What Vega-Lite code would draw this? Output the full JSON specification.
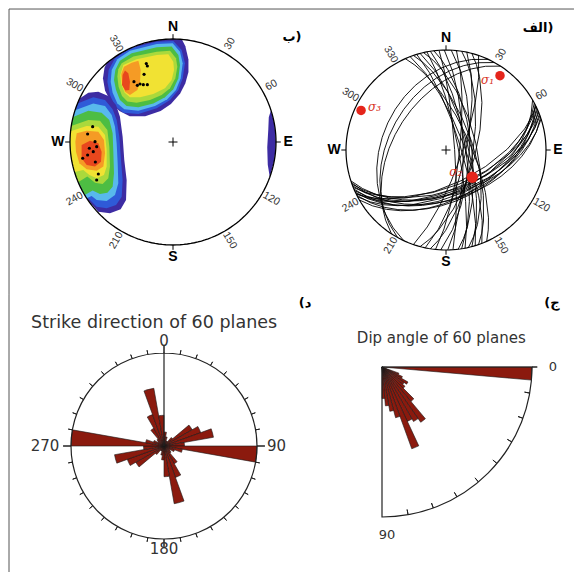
{
"$schema": "https://vega.github.io/schema/vega-lite/v6.json",
"padding": 0,
"background": "white",
"config": {"view": {"stroke": null}},
"spacing": 0,
"bounds": "flush",
"vconcat": [
{
"width": 574, "height": 295,
"layer": [
{"data": {"values": [
{"c":"NW","lv":1,"g":{"type":"Polygon","coordinates":[[[-64.3,76.6],[-57.4,81.9],[-50,86.6],[-34.2,94],[-17.4,98.5],[0,100],[8.7,99.6],[12,93],[15,80],[15,68],[12,57],[7,47],[-2,37],[-12,30],[-27,25],[-42,25],[-52,30],[-60,38],[-66,50],[-68,62],[-66.5,72],[-64.3,76.6]]]}},
{"c":"NW","lv":2,"g":{"type":"Polygon","coordinates":[[[-56.3,81.2],[-41.8,90.9],[-15.8,97.4],[0.3,98.1],[8.4,89.3],[11.6,76.4],[9.4,61.8],[5.2,50.5],[-2.9,40.8],[-15.8,32.7],[-33.6,27.2],[-48.2,28.5],[-56.3,35.0],[-61.2,45.6],[-63.7,58.6],[-62.5,69.9],[-56.3,81.2]]]}},
{"c":"NW","lv":3,"g":{"type":"Polygon","coordinates":[[[-54.0,80.3],[-41.8,88.7],[-15.8,95.2],[-0.3,95.8],[6.8,87.7],[9.4,76.4],[7.5,61.8],[2.9,50.5],[-5.5,41.4],[-17.5,35.0],[-33.6,30.4],[-47.3,31.7],[-54.0,37.5],[-58.6,47.9],[-60.5,58.6],[-59.5,69.9],[-54.0,80.3]]]}},
{"c":"NW","lv":4,"g":{"type":"Polygon","coordinates":[[[-51.5,79.0],[-40.1,86.1],[-15.8,91.9],[-1.3,92.6],[5.2,84.5],[6.8,74.8],[5.2,61.8],[0.3,51.1],[-7.8,43.4],[-19.1,37.5],[-33.6,33.7],[-45.0,35.0],[-51.5,40.8],[-55.3,50.5],[-57.3,60.2],[-56.0,69.9],[-51.5,79.0]]]}},
{"c":"NW","lv":5,"g":{"type":"Polygon","coordinates":[[[-49.8,76.4],[-38.5,82.9],[-15.8,87.7],[-2.9,88.7],[2.9,81.2],[4.2,73.1],[2.3,61.8],[-2.9,52.1],[-11.0,45.6],[-22.3,40.8],[-35.3,38.2],[-44.3,39.2],[-49.5,44.7],[-52.8,53.7],[-54.0,63.4],[-53.1,70.6],[-49.8,76.4]]]}},
{"c":"NW","lv":6,"g":{"type":"Polygon","coordinates":[[[-48.2,74.8],[-35.3,80.3],[-15.8,84.5],[-4.5,85.1],[0.3,78.0],[1.0,69.9],[-1.3,60.2],[-7.8,52.1],[-19.1,46.6],[-32.0,43.4],[-41.8,43.4],[-46.9,47.9],[-50.2,56.3],[-51.1,65.1],[-48.2,74.8]]]}},
{"c":"NW","lv":7,"g":{"type":"Polygon","coordinates":[[[-47.6,73.1],[-40.1,77.0],[-33.6,79.0],[-31.4,69.9],[-32.0,58.6],[-34.6,50.5],[-41.8,45.6],[-46.6,48.9],[-49.5,57.0],[-50.2,66.0],[-47.6,73.1]]]}},
{"c":"NW","lv":8,"g":{"type":"Polygon","coordinates":[[[-48.9,65.1],[-46.6,69.3],[-43.4,66.7],[-41.8,58.6],[-42.4,50.5],[-46.3,49.9],[-49.5,55.4],[-48.9,65.1]]]}},
{"c":"W","lv":1,"g":{"type":"Polygon","coordinates":[[[-90.6,42.3],[-82.2,47.9],[-72.5,48.9],[-62.8,44.7],[-55.3,35.9],[-51.5,24.6],[-48.9,5.2],[-47.3,-17.5],[-45.0,-36.9],[-45.6,-56.3],[-50.8,-65.4],[-61.2,-69.2],[-72.5,-67.6],[-81.2,-57.9],[-86.6,-50],[-94,-34.2],[-98.5,-17.4],[-100,0],[-98.5,17.4],[-94,34.2],[-90.6,42.3]]]}},
{"c":"W","lv":2,"g":{"type":"Polygon","coordinates":[[[-92.7,37.5],[-77.4,43.4],[-66.0,40.8],[-58.6,31.7],[-54.7,21.4],[-52.1,5.2],[-50.5,-17.5],[-48.9,-36.9],[-49.8,-53.1],[-55.3,-61.2],[-64.4,-64.4],[-74.1,-62.8],[-80.6,-56.3],[-84.8,-53.0],[-94,-34.2],[-98.5,-17.4],[-100,0],[-98.5,17.4],[-94,34.2],[-92.7,37.5]]]}},
{"c":"W","lv":3,"g":{"type":"Polygon","coordinates":[[[-95.1,30.9],[-77.4,37.5],[-66.0,35.0],[-59.5,26.2],[-56.3,14.9],[-54.7,-1.3],[-53.7,-20.7],[-53.1,-40.1],[-56.3,-51.5],[-64.4,-57.3],[-74.1,-56.3],[-79.0,-52.4],[-83.9,-54.5],[-94,-34.2],[-98.5,-17.4],[-100,0],[-98.5,17.4],[-95.1,30.9]]]}},
{"c":"W","lv":4,"g":{"type":"Polygon","coordinates":[[[-97.0,24.2],[-82.2,30.4],[-69.3,28.5],[-61.8,21.4],[-58.6,8.4],[-57.9,-11.0],[-57.3,-30.4],[-58.6,-43.4],[-63.7,-49.2],[-70.9,-50.5],[-78.0,-47.2],[-85.7,-51.5],[-94,-34.2],[-98.5,-17.4],[-100,0],[-99.2,12.4],[-97.0,24.2]]]}},
{"c":"W","lv":5,"g":{"type":"Polygon","coordinates":[[[-98.8,15.6],[-82.2,21.4],[-70.9,20.7],[-63.7,11.7],[-61.8,-4.5],[-61.2,-23.9],[-62.8,-35.3],[-68.3,-40.8],[-75.7,-39.5],[-83.2,-33.6],[-92.1,-39.1],[-98.5,-17.4],[-100,0],[-98.8,15.6]]]}},
{"c":"W","lv":6,"g":{"type":"Polygon","coordinates":[[[-99.5,10.5],[-83.8,15.6],[-72.5,14.9],[-66.0,6.8],[-64.4,-7.8],[-64.4,-23.9],[-67.0,-32.0],[-74.1,-35.3],[-81.2,-32.0],[-87.1,-27.2],[-95.6,-29.2],[-98.5,-17.4],[-100,0],[-99.5,10.5]]]}},
{"c":"W","lv":7,"g":{"type":"Polygon","coordinates":[[[-93.5,8.4],[-83.8,11.0],[-72.5,10.0],[-67.0,2.0],[-66.0,-11.0],[-67.6,-23.9],[-74.1,-27.8],[-83.8,-26.5],[-90.9,-20.7],[-94.2,-9.4],[-94.8,0.3],[-93.5,8.4]]]}},
{"c":"W","lv":8,"g":{"type":"Polygon","coordinates":[[[-88.7,-2.9],[-80.6,1.3],[-72.5,-1.3],[-69.3,-9.4],[-69.9,-19.1],[-75.7,-23.9],[-83.8,-22.3],[-88.7,-15.8],[-88.7,-2.9]]]}},
{"c":"E","lv":1,"g":{"type":"Polygon","coordinates":[[[95.1,30.9],[98.5,17.4],[100,0],[98.5,-17.4],[94,-34.2],[92,-22],[91.5,-5],[92.5,12],[93,24],[95.1,30.9]]]}}
]},
"mark": {"type": "geoshape", "stroke": null, "strokeWidth": 0},
"projection": {"type": "identity", "reflectY": true, "scale": 1.03, "translate": [173, 142]},
"encoding": {
"shape": {"field": "g", "type": "geojson"},
"fill": {"field": "lv", "type": "ordinal", "legend": null,
"scale": {"domain": [1,2,3,4,5,6,7,8], "range": ["#3d2ca3","#2f5ad8","#58b9ec","#4dbd43","#aad93c","#f1e233","#f59b25","#e8471d"]}}
}},
{"data": {"values": [
{"u":-25.9,"v":76.1},{"u":-24.9,"v":73.8},{"u":-28.1,"v":65.7},{"u":-37.9,"v":58.6},{"u":-34.6,"v":55.0},{"u":-32.0,"v":56.3},{"u":-28.8,"v":55.7},{"u":-24.9,"v":55.7},
{"u":-78.0,"v":14.9},{"u":-82.9,"v":7.8},{"u":-75.7,"v":0.3},{"u":-74.1,"v":-4.5},{"u":-81.2,"v":-6.1},{"u":-77.4,"v":-9.4},{"u":-82.9,"v":-12.6},{"u":-87.7,"v":-15.8},{"u":-75.4,"v":-19.4},{"u":-72.5,"v":-31.1},{"u":-74.1,"v":-36.9}
]},
"mark": {"type": "circle", "size": 10, "color": "black", "opacity": 1},
"projection": {"type": "identity", "reflectY": true, "scale": 1.03, "translate": [173, 142]},
"encoding": {"longitude": {"field": "u", "type": "quantitative"}, "latitude": {"field": "v", "type": "quantitative"}}},
{"data": {"values": [{"u":-159.2,"v":-148.5,"u2":-159.2,"v2":129.1},{"u":-159.2,"v":129.1,"u2":389.3,"v2":129.1}]},
"mark": {"type": "rule", "stroke": "#555", "strokeWidth": 1},
"projection": {"type": "identity", "reflectY": true, "scale": 1.03, "translate": [173, 142]},
"encoding": {"longitude": {"field": "u", "type": "quantitative"}, "latitude": {"field": "v", "type": "quantitative"}, "longitude2": {"field": "u2"}, "latitude2": {"field": "v2"}}},
{"data": {"sphere": true},
"mark": {"type": "geoshape", "filled": false, "fill": null, "stroke": "black", "strokeWidth": 1.3},
"projection": {"type": "azimuthalEqualArea", "rotate": [0, 90, 0], "clipAngle": 90, "scale": 72.83, "translate": [173, 142]}},
{"data": {"values": [{"lon":0,"lat":0,"lat2":5.5},{"lon":90,"lat":0,"lat2":5.5},{"lon":180,"lat":0,"lat2":5.5},{"lon":270,"lat":0,"lat2":5.5}]},
"mark": {"type": "rule", "stroke": "black", "strokeWidth": 1},
"projection": {"type": "azimuthalEqualArea", "rotate": [0, 90, 0], "clipAngle": 90, "scale": 72.83, "translate": [173, 142]},
"encoding": {"longitude": {"field": "lon", "type": "quantitative"}, "latitude": {"field": "lat", "type": "quantitative"}, "longitude2": {"field": "lon"}, "latitude2": {"field": "lat2"}}},
{"data": {"values": [{"t":"N","lon":0,"lat":14.5},{"t":"E","lon":90,"lat":14.5},{"t":"S","lon":180,"lat":14.5},{"t":"W","lon":270,"lat":14.5}]},
"mark": {"type": "text", "font": "Liberation Sans", "fontWeight": "bold", "fontSize": 14, "align": "center", "baseline": "middle", "fill": "black"},
"projection": {"type": "azimuthalEqualArea", "rotate": [0, 90, 0], "clipAngle": 90, "scale": 72.83, "translate": [173, 142]},
"encoding": {"longitude": {"field": "lon", "type": "quantitative"}, "latitude": {"field": "lat", "type": "quantitative"}, "text": {"field": "t"}}},
{"data": {"values": [{"t":"30","lon":30,"lat":12.5,"rot":-60},{"t":"60","lon":60,"lat":12.5,"rot":-30},{"t":"120","lon":120,"lat":12.5,"rot":30},{"t":"150","lon":150,"lat":12.5,"rot":60},{"t":"210","lon":210,"lat":12.5,"rot":-60},{"t":"240","lon":240,"lat":12.5,"rot":-30},{"t":"300","lon":300,"lat":12.5,"rot":30},{"t":"330","lon":330,"lat":12.5,"rot":60}]},
"mark": {"type": "text", "font": "Liberation Sans", "fontSize": 10.5, "align": "center", "baseline": "middle", "fill": "#333"},
"projection": {"type": "azimuthalEqualArea", "rotate": [0, 90, 0], "clipAngle": 90, "scale": 72.83, "translate": [173, 142]},
"encoding": {"longitude": {"field": "lon", "type": "quantitative"}, "latitude": {"field": "lat", "type": "quantitative"}, "text": {"field": "t"}, "angle": {"field": "rot", "type": "quantitative", "scale": null}}},
{"data": {"values": [{"lon":0,"lat":-90}]},
"mark": {"type": "point", "shape": "M-1,0L1,0M0,-1L0,1", "size": 81, "filled": false, "stroke": "black", "strokeWidth": 1, "opacity": 1},
"projection": {"type": "azimuthalEqualArea", "rotate": [0, 90, 0], "clipAngle": 90, "scale": 72.83, "translate": [173, 142]},
"encoding": {"longitude": {"field": "lon", "type": "quantitative"}, "latitude": {"field": "lat", "type": "quantitative"}}},
{"data": {"values": [{"t":"ب)","u":115.5,"v":101.9},{"t":"الف)","u":354.4,"v":110.7}]},
"mark": {"type": "text", "font": "DejaVu Sans", "fontWeight": "bold", "fontSize": 13, "align": "center", "baseline": "middle", "fill": "black"},
"projection": {"type": "identity", "reflectY": true, "scale": 1.03, "translate": [173, 142]},
"encoding": {"longitude": {"field": "u", "type": "quantitative"}, "latitude": {"field": "v", "type": "quantitative"}, "text": {"field": "t"}}},
{"data": {"sphere": true},
"mark": {"type": "geoshape", "filled": false, "fill": null, "stroke": "black", "strokeWidth": 1.2},
"projection": {"type": "azimuthalEqualArea", "rotate": [0, 90, 0], "clipAngle": 90, "scale": 70.71, "translate": [446, 150]}},
{"data": {"values": [
{"s":60,"d":50,"g":{"type":"LineString","coordinates":[[60,0],[150,-50],[240,0]]}},
{"s":62,"d":55,"g":{"type":"LineString","coordinates":[[62,0],[152,-55],[242,0]]}},
{"s":63,"d":48,"g":{"type":"LineString","coordinates":[[63,0],[153,-48],[243,0]]}},
{"s":64,"d":58,"g":{"type":"LineString","coordinates":[[64,0],[154,-58],[244,0]]}},
{"s":65,"d":52,"g":{"type":"LineString","coordinates":[[65,0],[155,-52],[245,0]]}},
{"s":66,"d":56,"g":{"type":"LineString","coordinates":[[66,0],[156,-56],[246,0]]}},
{"s":67,"d":50,"g":{"type":"LineString","coordinates":[[67,0],[157,-50],[247,0]]}},
{"s":68,"d":60,"g":{"type":"LineString","coordinates":[[68,0],[158,-60],[248,0]]}},
{"s":69,"d":54,"g":{"type":"LineString","coordinates":[[69,0],[159,-54],[249,0]]}},
{"s":70,"d":57,"g":{"type":"LineString","coordinates":[[70,0],[160,-57],[250,0]]}},
{"s":71,"d":49,"g":{"type":"LineString","coordinates":[[71,0],[161,-49],[251,0]]}},
{"s":72,"d":53,"g":{"type":"LineString","coordinates":[[72,0],[162,-53],[252,0]]}},
{"s":64,"d":62,"g":{"type":"LineString","coordinates":[[64,0],[154,-62],[244,0]]}},
{"s":336,"d":70,"g":{"type":"LineString","coordinates":[[336,0],[66,-70],[156,0]]}},
{"s":339,"d":75,"g":{"type":"LineString","coordinates":[[339,0],[69,-75],[159,0]]}},
{"s":341,"d":68,"g":{"type":"LineString","coordinates":[[341,0],[71,-68],[161,0]]}},
{"s":343,"d":78,"g":{"type":"LineString","coordinates":[[343,0],[73,-78],[163,0]]}},
{"s":345,"d":72,"g":{"type":"LineString","coordinates":[[345,0],[75,-72],[165,0]]}},
{"s":347,"d":65,"g":{"type":"LineString","coordinates":[[347,0],[77,-65],[167,0]]}},
{"s":349,"d":80,"g":{"type":"LineString","coordinates":[[349,0],[79,-80],[169,0]]}},
{"s":351,"d":74,"g":{"type":"LineString","coordinates":[[351,0],[81,-74],[171,0]]}},
{"s":353,"d":69,"g":{"type":"LineString","coordinates":[[353,0],[83,-69],[173,0]]}},
{"s":356,"d":83,"g":{"type":"LineString","coordinates":[[356,0],[86,-83],[176,0]]}},
{"s":359,"d":76,"g":{"type":"LineString","coordinates":[[359,0],[89,-76],[179,0]]}},
{"s":3,"d":71,"g":{"type":"LineString","coordinates":[[3,0],[93,-71],[183,0]]}},
{"s":6,"d":79,"g":{"type":"LineString","coordinates":[[6,0],[96,-79],[186,0]]}},
{"s":9,"d":68,"g":{"type":"LineString","coordinates":[[9,0],[99,-68],[189,0]]}},
{"s":12,"d":74,"g":{"type":"LineString","coordinates":[[12,0],[102,-74],[192,0]]}},
{"s":15,"d":66,"g":{"type":"LineString","coordinates":[[15,0],[105,-66],[195,0]]}},
{"s":19,"d":77,"g":{"type":"LineString","coordinates":[[19,0],[109,-77],[199,0]]}},
{"s":205,"d":36,"g":{"type":"LineString","coordinates":[[205,0],[295,-36],[25,0]]}},
{"s":209,"d":42,"g":{"type":"LineString","coordinates":[[209,0],[299,-42],[29,0]]}},
{"s":213,"d":47,"g":{"type":"LineString","coordinates":[[213,0],[303,-47],[33,0]]}}
]},
"mark": {"type": "geoshape", "filled": false, "fill": null, "stroke": "black", "strokeWidth": 0.9},
"projection": {"type": "azimuthalEqualArea", "rotate": [0, 90, 0], "clipAngle": 90, "scale": 70.71, "translate": [446, 150]},
"encoding": {"shape": {"field": "g", "type": "geojson"}}},
{"data": {"values": [{"lon":0,"lat":0,"lat2":5.5},{"lon":90,"lat":0,"lat2":5.5},{"lon":180,"lat":0,"lat2":5.5},{"lon":270,"lat":0,"lat2":5.5}]},
"mark": {"type": "rule", "stroke": "black", "strokeWidth": 1},
"projection": {"type": "azimuthalEqualArea", "rotate": [0, 90, 0], "clipAngle": 90, "scale": 70.71, "translate": [446, 150]},
"encoding": {"longitude": {"field": "lon", "type": "quantitative"}, "latitude": {"field": "lat", "type": "quantitative"}, "longitude2": {"field": "lon"}, "latitude2": {"field": "lat2"}}},
{"data": {"values": [{"t":"N","lon":0,"lat":14.5},{"t":"E","lon":90,"lat":14.5},{"t":"S","lon":180,"lat":14.5},{"t":"W","lon":270,"lat":14.5}]},
"mark": {"type": "text", "font": "Liberation Sans", "fontWeight": "bold", "fontSize": 14, "align": "center", "baseline": "middle", "fill": "black"},
"projection": {"type": "azimuthalEqualArea", "rotate": [0, 90, 0], "clipAngle": 90, "scale": 70.71, "translate": [446, 150]},
"encoding": {"longitude": {"field": "lon", "type": "quantitative"}, "latitude": {"field": "lat", "type": "quantitative"}, "text": {"field": "t"}}},
{"data": {"values": [{"t":"30","lon":30,"lat":12.5,"rot":-60},{"t":"60","lon":60,"lat":12.5,"rot":-30},{"t":"120","lon":120,"lat":12.5,"rot":30},{"t":"150","lon":150,"lat":12.5,"rot":60},{"t":"210","lon":210,"lat":12.5,"rot":-60},{"t":"240","lon":240,"lat":12.5,"rot":-30},{"t":"300","lon":300,"lat":12.5,"rot":30},{"t":"330","lon":330,"lat":12.5,"rot":60}]},
"mark": {"type": "text", "font": "Liberation Sans", "fontSize": 10.5, "align": "center", "baseline": "middle", "fill": "#333"},
"projection": {"type": "azimuthalEqualArea", "rotate": [0, 90, 0], "clipAngle": 90, "scale": 70.71, "translate": [446, 150]},
"encoding": {"longitude": {"field": "lon", "type": "quantitative"}, "latitude": {"field": "lat", "type": "quantitative"}, "text": {"field": "t"}, "angle": {"field": "rot", "type": "quantitative", "scale": null}}},
{"data": {"values": [{"lon":0,"lat":-90}]},
"mark": {"type": "point", "shape": "M-1,0L1,0M0,-1L0,1", "size": 81, "filled": false, "stroke": "black", "strokeWidth": 1, "opacity": 1},
"projection": {"type": "azimuthalEqualArea", "rotate": [0, 90, 0], "clipAngle": 90, "scale": 70.71, "translate": [446, 150]},
"encoding": {"longitude": {"field": "lon", "type": "quantitative"}, "latitude": {"field": "lat", "type": "quantitative"}}},
{"data": {"values": [{"k":"σ1","az":36,"pl":-9,"sz":90},{"k":"σ2","az":136,"pl":-59,"sz":130},{"k":"σ3","az":295,"pl":-7,"sz":90}]},
"mark": {"type": "circle", "color": "#e5251b", "opacity": 1},
"projection": {"type": "azimuthalEqualArea", "rotate": [0, 90, 0], "clipAngle": 90, "scale": 70.71, "translate": [446, 150]},
"encoding": {"longitude": {"field": "az", "type": "quantitative"}, "latitude": {"field": "pl", "type": "quantitative"}, "size": {"field": "sz", "type": "quantitative", "scale": null}}},
{"data": {"values": [{"t":"σ₁","az":36,"pl":-9}]},
"mark": {"type": "text", "font": "DejaVu Serif", "fontStyle": "italic", "fontSize": 12, "align": "right", "baseline": "middle", "dx": -6, "dy": 4, "fill": "#d8321e"},
"projection": {"type": "azimuthalEqualArea", "rotate": [0, 90, 0], "clipAngle": 90, "scale": 70.71, "translate": [446, 150]},
"encoding": {"longitude": {"field": "az", "type": "quantitative"}, "latitude": {"field": "pl", "type": "quantitative"}, "text": {"field": "t"}}},
{"data": {"values": [{"t":"σ₂","az":136,"pl":-59}]},
"mark": {"type": "text", "font": "DejaVu Serif", "fontStyle": "italic", "fontSize": 12, "align": "right", "baseline": "middle", "dx": -10, "dy": -5, "fill": "#d8321e"},
"projection": {"type": "azimuthalEqualArea", "rotate": [0, 90, 0], "clipAngle": 90, "scale": 70.71, "translate": [446, 150]},
"encoding": {"longitude": {"field": "az", "type": "quantitative"}, "latitude": {"field": "pl", "type": "quantitative"}, "text": {"field": "t"}}},
{"data": {"values": [{"t":"σ₃","az":295,"pl":-7}]},
"mark": {"type": "text", "font": "DejaVu Serif", "fontStyle": "italic", "fontSize": 12, "align": "left", "baseline": "middle", "dx": 7, "dy": -3, "fill": "#d8321e"},
"projection": {"type": "azimuthalEqualArea", "rotate": [0, 90, 0], "clipAngle": 90, "scale": 70.71, "translate": [446, 150]},
"encoding": {"longitude": {"field": "az", "type": "quantitative"}, "latitude": {"field": "pl", "type": "quantitative"}, "text": {"field": "t"}}}
]
},
{"hconcat": [
{
"width": 328, "height": 302,
"layer": [
{"data": {"values": [{"u":-155,"v":151,"u2":-155,"v2":-130}]},
"mark": {"type": "rule", "stroke": "#555", "strokeWidth": 1},
"projection": {"type": "identity", "reflectY": true, "scale": 1, "translate": [164, 151]},
"encoding": {"longitude": {"field": "u", "type": "quantitative"}, "latitude": {"field": "v", "type": "quantitative"}, "longitude2": {"field": "u2"}, "latitude2": {"field": "v2"}}},
{"data": {"values": [
{"a0":0,"a1":10,"len":0.15},{"a0":10,"a1":20,"len":0.1},{"a0":20,"a1":30,"len":0.06},{"a0":30,"a1":40,"len":0.06},{"a0":40,"a1":50,"len":0.12},{"a0":50,"a1":60,"len":0.35},{"a0":60,"a1":70,"len":0.42},{"a0":70,"a1":80,"len":0.54},{"a0":80,"a1":90,"len":0.22},
{"a0":90,"a1":100,"len":1.0},{"a0":100,"a1":110,"len":0.2},{"a0":110,"a1":120,"len":0.12},{"a0":120,"a1":130,"len":0.08},{"a0":130,"a1":140,"len":0.1},{"a0":140,"a1":150,"len":0.22},{"a0":150,"a1":160,"len":0.36},{"a0":160,"a1":170,"len":0.63},{"a0":170,"a1":180,"len":0.33},
{"a0":180,"a1":190,"len":0.15},{"a0":190,"a1":200,"len":0.1},{"a0":200,"a1":210,"len":0.06},{"a0":210,"a1":220,"len":0.06},{"a0":220,"a1":230,"len":0.12},{"a0":230,"a1":240,"len":0.35},{"a0":240,"a1":250,"len":0.42},{"a0":250,"a1":260,"len":0.54},{"a0":260,"a1":270,"len":0.22},
{"a0":270,"a1":280,"len":1.0},{"a0":280,"a1":290,"len":0.2},{"a0":290,"a1":300,"len":0.12},{"a0":300,"a1":310,"len":0.08},{"a0":310,"a1":320,"len":0.1},{"a0":320,"a1":330,"len":0.22},{"a0":330,"a1":340,"len":0.36},{"a0":340,"a1":350,"len":0.63},{"a0":350,"a1":360,"len":0.33}
]},
"mark": {"type": "arc", "fill": "#8b1a0e", "stroke": "#1a1a1a", "strokeWidth": 0.6},
"encoding": {
"theta": {"field": "a0", "type": "quantitative", "stack": null, "scale": {"type": "linear", "domain": [0, 360], "range": [0, 6.283185307]}},
"theta2": {"field": "a1"},
"radius": {"field": "len", "type": "quantitative", "stack": null, "scale": {"type": "linear", "domain": [0, 1], "range": [0, 93], "zero": true}}
}},
{"data": {"values": [{"a0":0,"a1":360,"r":1}]},
"mark": {"type": "arc", "filled": false, "fill": null, "stroke": "#222", "strokeWidth": 1.2},
"encoding": {
"theta": {"field": "a0", "type": "quantitative", "stack": null, "scale": {"type": "linear", "domain": [0, 360], "range": [0, 6.283185307]}},
"theta2": {"field": "a1"},
"radius": {"field": "r", "type": "quantitative", "stack": null, "scale": {"type": "linear", "domain": [0, 1], "range": [0, 93], "zero": true}}
}},
{"data": {"values": [
{"a":0,"r1":1,"r2":1.085},{"a":10,"r1":1,"r2":1.045},{"a":20,"r1":1,"r2":1.045},{"a":30,"r1":1,"r2":1.045},{"a":40,"r1":1,"r2":1.045},{"a":50,"r1":1,"r2":1.045},{"a":60,"r1":1,"r2":1.045},{"a":70,"r1":1,"r2":1.045},{"a":80,"r1":1,"r2":1.045},
{"a":90,"r1":1,"r2":1.085},{"a":100,"r1":1,"r2":1.045},{"a":110,"r1":1,"r2":1.045},{"a":120,"r1":1,"r2":1.045},{"a":130,"r1":1,"r2":1.045},{"a":140,"r1":1,"r2":1.045},{"a":150,"r1":1,"r2":1.045},{"a":160,"r1":1,"r2":1.045},{"a":170,"r1":1,"r2":1.045},
{"a":180,"r1":1,"r2":1.085},{"a":190,"r1":1,"r2":1.045},{"a":200,"r1":1,"r2":1.045},{"a":210,"r1":1,"r2":1.045},{"a":220,"r1":1,"r2":1.045},{"a":230,"r1":1,"r2":1.045},{"a":240,"r1":1,"r2":1.045},{"a":250,"r1":1,"r2":1.045},{"a":260,"r1":1,"r2":1.045},
{"a":270,"r1":1,"r2":1.085},{"a":280,"r1":1,"r2":1.045},{"a":290,"r1":1,"r2":1.045},{"a":300,"r1":1,"r2":1.045},{"a":310,"r1":1,"r2":1.045},{"a":320,"r1":1,"r2":1.045},{"a":330,"r1":1,"r2":1.045},{"a":340,"r1":1,"r2":1.045},{"a":350,"r1":1,"r2":1.045}
]},
"mark": {"type": "arc", "filled": false, "fill": null, "stroke": "#222", "strokeWidth": 1},
"encoding": {
"theta": {"field": "a", "type": "quantitative", "stack": null, "scale": {"type": "linear", "domain": [0, 360], "range": [0, 6.283185307]}},
"theta2": {"field": "a"},
"radius": {"field": "r2", "type": "quantitative", "stack": null, "scale": {"type": "linear", "domain": [0, 1], "range": [0, 93], "zero": true}},
"radius2": {"field": "r1"}
}},
{"data": {"values": [{"t":"0","a":0,"r":1.125},{"t":"90","a":90,"r":1.21},{"t":"180","a":180,"r":1.11},{"t":"270","a":270,"r":1.28}]},
"mark": {"type": "text", "font": "DejaVu Sans", "fontSize": 15, "align": "center", "baseline": "middle", "fill": "#333"},
"encoding": {
"theta": {"field": "a", "type": "quantitative", "stack": null, "scale": {"type": "linear", "domain": [0, 360], "range": [0, 6.283185307]}},
"radius": {"field": "r", "type": "quantitative", "stack": null, "scale": {"type": "linear", "domain": [0, 1], "range": [0, 93], "zero": true}},
"text": {"field": "t"}
}},
{"data": {"values": [{"t":"Strike direction of 60 planes","a":355.4,"r":1.327}]},
"mark": {"type": "text", "font": "DejaVu Sans", "fontSize": 17.5, "align": "center", "baseline": "middle", "fill": "#333"},
"encoding": {
"theta": {"field": "a", "type": "quantitative", "stack": null, "scale": {"type": "linear", "domain": [0, 360], "range": [0, 6.283185307]}},
"radius": {"field": "r", "type": "quantitative", "stack": null, "scale": {"type": "linear", "domain": [0, 1], "range": [0, 93], "zero": true}},
"text": {"field": "t"}
}},
{"data": {"values": [{"t":"(د","a":44.6,"r":2.16}]},
"mark": {"type": "text", "font": "DejaVu Sans", "fontWeight": "bold", "fontSize": 13, "align": "center", "baseline": "middle", "fill": "black"},
"encoding": {
"theta": {"field": "a", "type": "quantitative", "stack": null, "scale": {"type": "linear", "domain": [0, 360], "range": [0, 6.283185307]}},
"radius": {"field": "r", "type": "quantitative", "stack": null, "scale": {"type": "linear", "domain": [0, 1], "range": [0, 93], "zero": true}},
"text": {"field": "t"}
}}
]
},
{
"width": 108, "height": 144,
"layer": [
{"data": {"values": [
{"a0":0,"a1":5,"len":1.0},{"a0":20,"a1":25,"len":0.12},{"a0":25,"a1":30,"len":0.15},{"a0":30,"a1":35,"len":0.2},{"a0":35,"a1":40,"len":0.18},{"a0":40,"a1":45,"len":0.2},{"a0":45,"a1":50,"len":0.3},{"a0":50,"a1":55,"len":0.45},{"a0":55,"a1":60,"len":0.42},{"a0":60,"a1":65,"len":0.4},{"a0":65,"a1":70,"len":0.58},{"a0":70,"a1":75,"len":0.35},{"a0":75,"a1":80,"len":0.3},{"a0":80,"a1":85,"len":0.26},{"a0":85,"a1":90,"len":0.21}
]},
"mark": {"type": "arc", "fill": "#8b1a0e", "stroke": "#1a1a1a", "strokeWidth": 0.6},
"encoding": {
"theta": {"field": "a0", "type": "quantitative", "stack": null, "scale": {"type": "linear", "domain": [-90, 270], "range": [0, 6.283185307]}},
"theta2": {"field": "a1"},
"radius": {"field": "len", "type": "quantitative", "stack": null, "scale": {"type": "linear", "domain": [0, 1], "range": [0, 150], "zero": true}}
}},
{"data": {"values": [{"a0":0,"a1":90,"r":1}]},
"mark": {"type": "arc", "filled": false, "fill": null, "stroke": "#222", "strokeWidth": 1.2},
"encoding": {
"theta": {"field": "a0", "type": "quantitative", "stack": null, "scale": {"type": "linear", "domain": [-90, 270], "range": [0, 6.283185307]}},
"theta2": {"field": "a1"},
"radius": {"field": "r", "type": "quantitative", "stack": null, "scale": {"type": "linear", "domain": [0, 1], "range": [0, 150], "zero": true}}
}},
{"data": {"values": [
{"a":0,"r1":1,"r2":1.035},{"a":10,"r1":0.965,"r2":1},{"a":20,"r1":0.965,"r2":1},{"a":30,"r1":0.965,"r2":1},{"a":40,"r1":0.965,"r2":1},{"a":50,"r1":0.965,"r2":1},{"a":60,"r1":0.965,"r2":1},{"a":70,"r1":0.965,"r2":1},{"a":80,"r1":0.965,"r2":1}
]},
"mark": {"type": "arc", "filled": false, "fill": null, "stroke": "#222", "strokeWidth": 1},
"encoding": {
"theta": {"field": "a", "type": "quantitative", "stack": null, "scale": {"type": "linear", "domain": [-90, 270], "range": [0, 6.283185307]}},
"theta2": {"field": "a"},
"radius": {"field": "r2", "type": "quantitative", "stack": null, "scale": {"type": "linear", "domain": [0, 1], "range": [0, 150], "zero": true}},
"radius2": {"field": "r1"}
}},
{"data": {"values": [{"t":"0","a":0,"r":1.14},{"t":"90","a":88.3,"r":1.12}]},
"mark": {"type": "text", "font": "DejaVu Sans", "fontSize": 13, "align": "center", "baseline": "middle", "fill": "#333"},
"encoding": {
"theta": {"field": "a", "type": "quantitative", "stack": null, "scale": {"type": "linear", "domain": [-90, 270], "range": [0, 6.283185307]}},
"radius": {"field": "r", "type": "quantitative", "stack": null, "scale": {"type": "linear", "domain": [0, 1], "range": [0, 150], "zero": true}},
"text": {"field": "t"}
}},
{"data": {"values": [{"t":"Dip angle of 60 planes","a":-26,"r":0.44}]},
"mark": {"type": "text", "font": "DejaVu Sans", "fontSize": 15, "align": "center", "baseline": "middle", "fill": "#333"},
"encoding": {
"theta": {"field": "a", "type": "quantitative", "stack": null, "scale": {"type": "linear", "domain": [-90, 270], "range": [0, 6.283185307]}},
"radius": {"field": "r", "type": "quantitative", "stack": null, "scale": {"type": "linear", "domain": [0, 1], "range": [0, 150], "zero": true}},
"text": {"field": "t"}
}},
{"data": {"values": [{"t":"(ج","a":-20.6,"r":1.21}]},
"mark": {"type": "text", "font": "DejaVu Sans", "fontWeight": "bold", "fontSize": 13, "align": "center", "baseline": "middle", "fill": "black"},
"encoding": {
"theta": {"field": "a", "type": "quantitative", "stack": null, "scale": {"type": "linear", "domain": [-90, 270], "range": [0, 6.283185307]}},
"radius": {"field": "r", "type": "quantitative", "stack": null, "scale": {"type": "linear", "domain": [0, 1], "range": [0, 150], "zero": true}},
"text": {"field": "t"}
}}
]
}
], "spacing": 0, "bounds": "flush"}
]
}
